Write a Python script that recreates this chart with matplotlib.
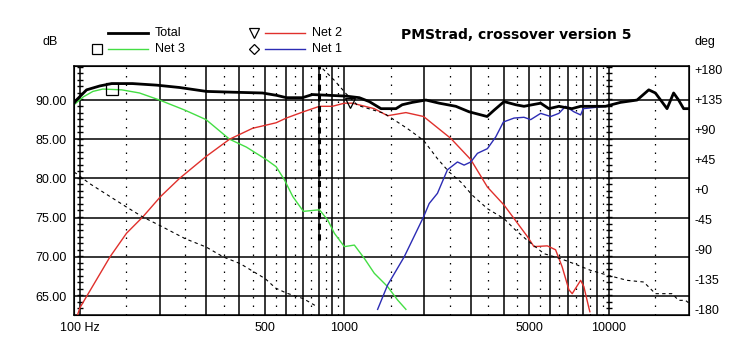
import numpy as np
import matplotlib.pyplot as plt
from matplotlib.lines import Line2D

plt.rcParams['font.family'] = ['Liberation Sans', 'DejaVu Sans']

# SPL of the summed response and the three networks (Hz, dB)
total_f = [95, 97, 106, 119, 132, 158, 195, 238, 301, 378, 490, 554, 604, 694, 757,
           877, 1017, 1139, 1243, 1376, 1567, 1655, 1806, 2034, 2283, 2640, 2963,
           3465, 3681, 4017, 4446, 4777, 5524, 5937, 6474, 7250, 7824, 9716, 11066,
           12790, 14160, 15000, 16600, 17580, 18360, 19180, 20000]
total_db = [89.6, 90.0, 91.3, 91.8, 92.1, 92.1, 91.9, 91.6, 91.1, 91.0, 90.9, 90.6,
            90.3, 90.3, 90.7, 90.6, 90.5, 90.3, 89.8, 88.9, 88.9, 89.4, 89.7, 90.0,
            89.6, 89.2, 88.5, 87.9, 88.7, 89.8, 89.4, 89.2, 89.6, 88.9, 89.2, 88.9,
            89.2, 89.2, 89.7, 90.0, 91.3, 90.9, 88.9, 90.9, 90.0, 88.9, 88.9]

net3_f = [95, 103, 112, 122, 144, 168, 200, 250, 300, 368, 426, 507, 552, 594, 638,
          700, 805, 865, 917, 1000, 1091, 1190, 1298, 1457, 1589, 1709]
net3_db = [89.4, 90.4, 91.1, 91.4, 91.3, 90.9, 90.0, 88.7, 87.5, 85.0, 84.0, 82.4,
           81.5, 79.8, 77.7, 75.8, 76.0, 74.7, 73.0, 71.3, 71.5, 69.8, 67.9, 66.2,
           64.5, 63.3]

net2_f = [98, 100, 130, 150, 173, 202, 238, 300, 368, 450, 552, 603, 700, 805, 901,
          1000, 1072, 1298, 1457, 1709, 1993, 2527, 3007, 3475, 4017, 4918, 5212,
          5851, 6290, 6664, 7063, 7270, 7824, 8047, 8404, 8480]
net2_db = [62.6, 63.5, 70.0, 73.0, 75.1, 77.7, 80.0, 82.8, 85.0, 86.4, 87.1, 87.7,
           88.5, 89.2, 89.2, 89.6, 89.6, 88.9, 88.0, 88.4, 87.9, 85.1, 82.4, 78.9,
           76.6, 72.6, 71.3, 71.4, 70.9, 68.7, 65.8, 65.3, 67.0, 66.2, 63.5, 63.0]

net1_f = [1336, 1457, 1684, 1993, 2093, 2249, 2453, 2677, 2836, 3007, 3186, 3475,
          3737, 3994, 4381, 4777, 5064, 5524, 6030, 6474, 6864, 7380, 7824, 8000,
          9716, 11066]
net1_db = [63.3, 66.4, 70.0, 75.1, 76.8, 78.1, 81.1, 82.1, 81.7, 82.1, 83.2, 83.8,
           85.3, 87.2, 87.7, 87.8, 87.5, 88.3, 87.9, 88.3, 89.2, 88.5, 88.1, 88.9,
           89.2, 89.7]

# phase of the sum (deg), split where it wraps round
phase_lo_f = [95, 97, 109, 150, 173, 200, 250, 300, 349, 404, 502, 549, 603, 700, 793]
phase_lo = [26, 23.6, 8.5, -26.5, -41.5, -54, -74, -86.5, -101.5, -111.5, -134,
            -148, -155.5, -164, -176.5]
phase_hi_f = [828, 917, 1015, 1122, 1415, 1734, 1993, 2249, 2490, 2756, 3050, 3475,
              4017, 4381, 4918, 5686, 6573, 7380, 8530, 9940, 11720, 13550, 15000,
              17330, 18360, 19480, 20000]
phase_hi = [181, 163.5, 143.5, 126, 114, 91, 73.5, 46, 26, 11, -9, -29, -44, -59,
            -76.5, -96.5, -104, -111.5, -121.5, -129, -136.5, -139, -156.5, -156.5,
            -166.5, -166.5, -170]

db_ticks = [65, 70, 75, 80, 85, 90]
deg_ticks = [-180, -135, -90, -45, 0, 45, 90, 135, 180]
deg_labels = ['-180', '-135', '-90', '-45', '+0', '+45', '+90', '+135', '+180']
f_ticks = [100, 500, 1000, 5000, 10000]
f_labels = ['100 Hz', '500', '1000', '5000', '10000']

fig = plt.figure(figsize=(7.49, 3.44), dpi=100)
ax = fig.add_axes([0.0988, 0.0843, 0.8211, 0.7238])
ax.set_xscale('log')
ax.set_xlim(95, 20100)
ax.set_ylim(62.58, 94.34)

# grid: solid at 2..9 of each decade, dotted half way between
dot_style = (0, (1.2, 5.6))
for dec in [100, 1000]:
    for k in range(2, 10):
        ax.axvline(dec * k, color='black', lw=1.1, zorder=1)
    for k in range(1, 10):
        ax.axvline(dec * (k + 0.5), color='black', lw=0.9, ls=dot_style, zorder=1)
ax.axvline(15000, color='black', lw=0.9, ls=dot_style, zorder=1)
for f0 in [100, 1000, 10000]:
    ax.axvline(f0, color='black', lw=1.1, zorder=1)
for d in db_ticks:
    ax.axhline(d, color='black', lw=1.1, zorder=1)

# small crossing ticks on the 100 Hz and 10 kHz lines
tick_y = np.arange(62.58 + 0.83, 94.34, 5 / 6.0)
for f0 in [100, 10000]:
    ax.plot(np.full(len(tick_y), f0), tick_y, ls='none', marker='_', ms=4,
            mew=1.0, color='black', zorder=2)

ax.plot(net3_f, net3_db, color='#44de44', lw=1.0, zorder=3)
ax.plot(net2_f, net2_db, color='#e0302c', lw=1.0, zorder=3)
ax.plot(net1_f, net1_db, color='#2c2cb4', lw=1.0, zorder=3)
ax.plot(total_f, total_db, color='black', lw=2.0, zorder=4)

ax.plot([132], [np.interp(np.log10(132), np.log10(net3_f), net3_db)], marker='s',
        ms=8, mfc='none', mec='black', mew=0.9, zorder=5)
ax.plot([1050], [np.interp(np.log10(1050), np.log10(net2_f), net2_db)], marker='v',
        ms=7, mfc='none', mec='black', mew=0.9, zorder=5)

ax.set_yticks(db_ticks)
ax.set_yticklabels(['%.2f' % d for d in db_ticks])
ax.set_xticks(f_ticks)
ax.set_xticklabels(f_labels)
ax.xaxis.set_minor_locator(plt.NullLocator())
ax.tick_params(axis='both', length=0, labelsize=9)
ax.tick_params(axis='y', pad=5)
ax.tick_params(axis='x', pad=5)
for sp in ax.spines.values():
    sp.set_linewidth(1.1)

ax2 = ax.twinx()
ax2.set_ylim(-188.5, 185)
ax2.plot(phase_lo_f, phase_lo, color='black', lw=0.8, ls=(0, (3, 3)), zorder=3)
ax2.plot(phase_hi_f, phase_hi, color='black', lw=0.8, ls=(0, (3, 3)), zorder=3)
ax2.axvline(800, ymin=0.30, ymax=1.0, color='black', lw=2.2, ls=(0, (2, 1.5)))
ax2.set_yticks(deg_ticks)
ax2.set_yticklabels(deg_labels)
ax2.tick_params(axis='y', length=0, labelsize=9, pad=4)
ax2.set_xlim(95, 20100)

fig.text(0.067, 0.877, 'dB', fontsize=9, ha='center', va='center')
fig.text(0.941, 0.877, 'deg', fontsize=9, ha='center', va='center')
fig.text(0.689, 0.898, 'PMStrad, crossover version 5', fontsize=10, fontweight='bold',
         family='DejaVu Sans', ha='center', va='center')

# legend block
def legend_row(x0, y, color, lw, label, marker=None, ms=7):
    yf = 1 - y / 344.0
    fig.add_artist(Line2D([x0 / 749.0, (x0 + 40) / 749.0], [yf, yf], color=color, lw=lw))
    fig.text((x0 + 47) / 749.0, yf, label, fontsize=9, va='center', ha='left')
    if marker:
        fig.add_artist(Line2D([(x0 - 11) / 749.0], [yf], marker=marker, ms=ms,
                              mfc='none', mec='black', mew=0.9, ls='none'))

legend_row(108, 33, 'black', 2.0, 'Total')
legend_row(108, 49, '#44de44', 1.0, 'Net 3', 's')
legend_row(265, 33, '#e0302c', 1.0, 'Net 2', 'v')
legend_row(265, 49, '#2c2cb4', 1.0, 'Net 1', 'D', ms=5.5)

fig.savefig('out.png', dpi=100)
